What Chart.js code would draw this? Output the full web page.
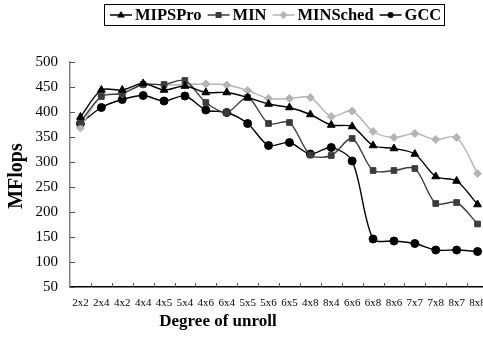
<!DOCTYPE html>
<html>
<head>
<meta charset="utf-8">
<script src="https://cdn.jsdelivr.net/npm/chart.js@4"></script>
<style>
  html, body { margin: 0; padding: 0; background: #fff; overflow: hidden; }
  #wrap { width: 483px; height: 350px; overflow: hidden; }
</style>
</head>
<body>
<div id="wrap"><canvas id="mflopsChart" width="500" height="350"></canvas></div>
<script>
// unroll factors (x axis)
const unrollLabels = ['2x2', '2x4', '4x2', '4x4', '4x5', '5x4', '4x6', '6x4', '5x5', '5x6',
                      '6x5', '4x8', '8x4', '6x6', '6x8', '8x6', '7x7', '7x8', '8x7', '8x8'];

// MFlops per compiler
const mipsProValues  = [390, 444, 444, 457, 444, 452, 439, 439, 429, 416, 409, 395, 374, 371, 333, 327, 316, 271, 262, 215];
const minValues      = [380, 431, 437, 455, 455, 463, 419, 399, 429, 377, 379, 314, 313, 347, 283, 283, 287, 217, 219, 176];
const minSchedValues = [368, 432, 437, 455, 454, 455, 456, 454, 443, 427, 427, 429, 391, 402, 361, 349, 357, 345, 349, 277];
const gccValues      = [377, 409, 425, 433, 422, 432, 404, 399, 377, 333, 339, 316, 329, 302, 146, 142, 137, 124, 124, 121];

const yMin = 50;
const yMax = 500;
const yStep = 50;

const SERIF = '"Liberation Serif", "DejaVu Serif", serif';

function makeSeries(label, values, color, style, radius) {
    return {
        label: label,
        data: values,
        borderColor: color,
        backgroundColor: color,
        borderWidth: 1.4,
        pointStyle: style,
        pointRadius: radius,
        pointBorderWidth: 1,
        tension: 0.3
    };
}

// Legend box, axis titles and the inside tick marks
const decorations = {
    id: 'decorations',
    afterDraw(chart) {
        const ctx = chart.ctx;
        const xs = chart.scales.x;
        const ys = chart.scales.y;

        ctx.save();
        // tick marks pointing into the plot
        ctx.strokeStyle = '#555';
        ctx.lineWidth = 1;
        ctx.beginPath();
        ys.ticks.forEach(t => {
            const py = Math.round(ys.getPixelForValue(t.value)) + 0.5;
            ctx.moveTo(xs.left, py);
            ctx.lineTo(xs.left + 5, py);
        });
        const n = unrollLabels.length;
        for (let i = 1; i <= n; i++) {
            const px = Math.round(xs.left + i * xs.width / n) + 0.5;
            ctx.moveTo(px, ys.bottom);
            ctx.lineTo(px, ys.bottom - 4);
        }
        ctx.stroke();

        // axis titles
        ctx.fillStyle = '#000';
        ctx.font = 'bold 17px ' + SERIF;
        ctx.textAlign = 'center';
        ctx.textBaseline = 'middle';
        ctx.fillText('Degree of unroll', 218, 322);

        ctx.save();
        ctx.translate(17, 176);
        ctx.rotate(-Math.PI / 2);
        ctx.font = 'bold 20px ' + SERIF;
        ctx.fillText('MFlops', 0, 0);
        ctx.restore();

        // legend
        ctx.font = 'bold 16.5px ' + SERIF;
        ctx.textAlign = 'left';
        ctx.textBaseline = 'middle';
        const cy = 15;
        let x = 110;
        chart.data.datasets.forEach((ds, i) => {
            ctx.strokeStyle = ds.borderColor;
            ctx.fillStyle = ds.borderColor;
            ctx.lineWidth = 1.5;
            ctx.beginPath();
            ctx.moveTo(x, cy);
            ctx.lineTo(x + 22, cy);
            ctx.stroke();
            drawMarker(ctx, ds.pointStyle, x + 11, cy, 3);
            x += 25;
            ctx.fillStyle = '#000';
            ctx.fillText(ds.label, x, cy + 1);
            x += ctx.measureText(ds.label).width + (i === chart.data.datasets.length - 1 ? 3 : 6);
        });
        ctx.strokeStyle = '#000';
        ctx.lineWidth = 1;
        ctx.strokeRect(104.5, 4.5, Math.round(x - 104), 21);
        ctx.restore();
    }
};

function drawMarker(ctx, style, x, y, r) {
    ctx.beginPath();
    if (style === 'triangle') {
        ctx.moveTo(x, y - r - 1);
        ctx.lineTo(x + r + 1, y + r - 0.5);
        ctx.lineTo(x - r - 1, y + r - 0.5);
    } else if (style === 'rect') {
        ctx.rect(x - r, y - r, 2 * r, 2 * r);
    } else if (style === 'rectRot') {
        ctx.moveTo(x, y - r - 1);
        ctx.lineTo(x + r + 1, y);
        ctx.lineTo(x, y + r + 1);
        ctx.lineTo(x - r - 1, y);
    } else {
        ctx.arc(x, y, r, 0, Math.PI * 2);
    }
    ctx.closePath();
    ctx.fill();
}

const ctx = document.getElementById('mflopsChart').getContext('2d');
new Chart(ctx, {
    type: 'line',
    data: {
        labels: unrollLabels,
        datasets: [
            makeSeries('MIPSPro', mipsProValues, '#000000', 'triangle', 4.5),
            makeSeries('MIN', minValues, '#3c3c3c', 'rect', 4),
            makeSeries('MINSched', minSchedValues, '#b4b4b4', 'rectRot', 4),
            makeSeries('GCC', gccValues, '#000000', 'circle', 4)
        ]
    },
    options: {
        responsive: false,
        animation: false,
        devicePixelRatio: 1,
        layout: {
            padding: { top: 62, right: 12, bottom: 0, left: 0 }
        },
        plugins: {
            legend: { display: false },
            tooltip: { enabled: false }
        },
        scales: {
            x: {
                offset: true,
                grid: { display: false, drawTicks: false },
                border: { color: '#000', width: 1.5 },
                ticks: {
                    color: '#000',
                    font: { family: SERIF, size: 11 },
                    padding: 10,
                    maxRotation: 0,
                    autoSkip: false
                },
                afterFit(scale) { scale.height = 63; }
            },
            y: {
                min: yMin,
                max: yMax,
                grid: { display: false, drawTicks: false },
                border: { color: '#808080', width: 1.5 },
                ticks: {
                    stepSize: yStep,
                    color: '#000',
                    font: { family: SERIF, size: 15 },
                    padding: 12
                },
                afterFit(scale) { scale.width = 70; }
            }
        }
    },
    plugins: [decorations]
});
</script>
</body>
</html>
